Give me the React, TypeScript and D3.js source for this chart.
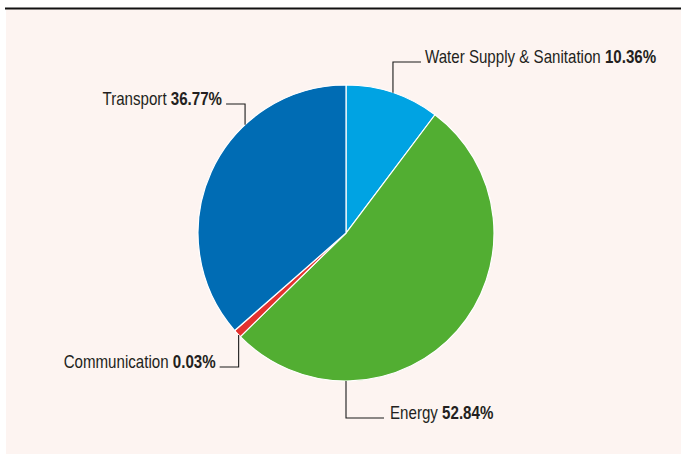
import React from "react";
import * as d3 from "d3";

// ---- data ----
const categories = ["Water Supply & Sanitation", "Energy", "Communication", "Transport"];
const percentLabels = ["10.36%", "52.84%", "0.03%", "36.77%"];
// slice sizes as drawn in the picture (the tiny Communication slice is drawn wider than its label)
const sliceValues = [10.36, 52.84, 0.9, 36.77];
const sliceColors = ["#00a3e3", "#52ae32", "#e4312f", "#006cb4"];

// label layout: angle on the rim where the leader starts, baseline y of elbow, side
const labelAngles = [18.5, 180, 226.5, 317];
const labelElbowY = [62, 418, 367, 104];
const labelSide = ["right", "right", "left", "left"];
const labelRun = [28, 38, 19, 19];
const labelGap = [4, 6, 4, 4];

const W = 681;
const H = 454;
const cx = 346;
const cy = 233;
const R = 148;

export default function App() {
  const pie = d3.pie<number>().sort(null).value((d) => d);
  const arcs = pie(sliceValues);
  const arc = d3.arc<d3.PieArcDatum<number>>().innerRadius(0).outerRadius(R);
  const font = "'Liberation Sans', Arial, sans-serif";

  return (
    <svg width={W} height={H} style={{ position: "absolute", left: 0, top: 0 }}>
      <rect x={6} y={9} width={W - 6} height={H - 9} fill="#fdf4f1" />
      <line x1={5} x2={W} y1={8.5} y2={8.5} stroke="#111" strokeWidth={2} />
      <g transform={`translate(${cx},${cy})`}>
        {arcs.map((a, i) => (
          <path key={i} d={arc(a) || ""} fill={sliceColors[i]} stroke="#ffffff" strokeWidth={1.2} />
        ))}
      </g>
      {categories.map((c, i) => {
        const ang = (labelAngles[i] * Math.PI) / 180;
        const ax = cx + R * Math.sin(ang);
        const ay = cy - R * Math.cos(ang);
        const ey = labelElbowY[i];
        const dir = labelSide[i] === "right" ? 1 : -1;
        const hx = ax + dir * labelRun[i];
        const tx = hx + dir * labelGap[i];
        return (
          <g key={c}>
            <polyline
              points={`${ax},${ay} ${ax},${ey} ${hx},${ey}`}
              fill="none"
              stroke="#1a1a1a"
              strokeWidth={1.1}
            />
            <text
              transform={`translate(${tx},${ey + 1}) scale(0.84,1)`}
              fontFamily={font}
              fontSize={18}
              fill="#231f20"
              textAnchor={dir === 1 ? "start" : "end"}
            >
              {c} <tspan fontWeight="bold">{percentLabels[i]}</tspan>
            </text>
          </g>
        );
      })}
    </svg>
  );
}
